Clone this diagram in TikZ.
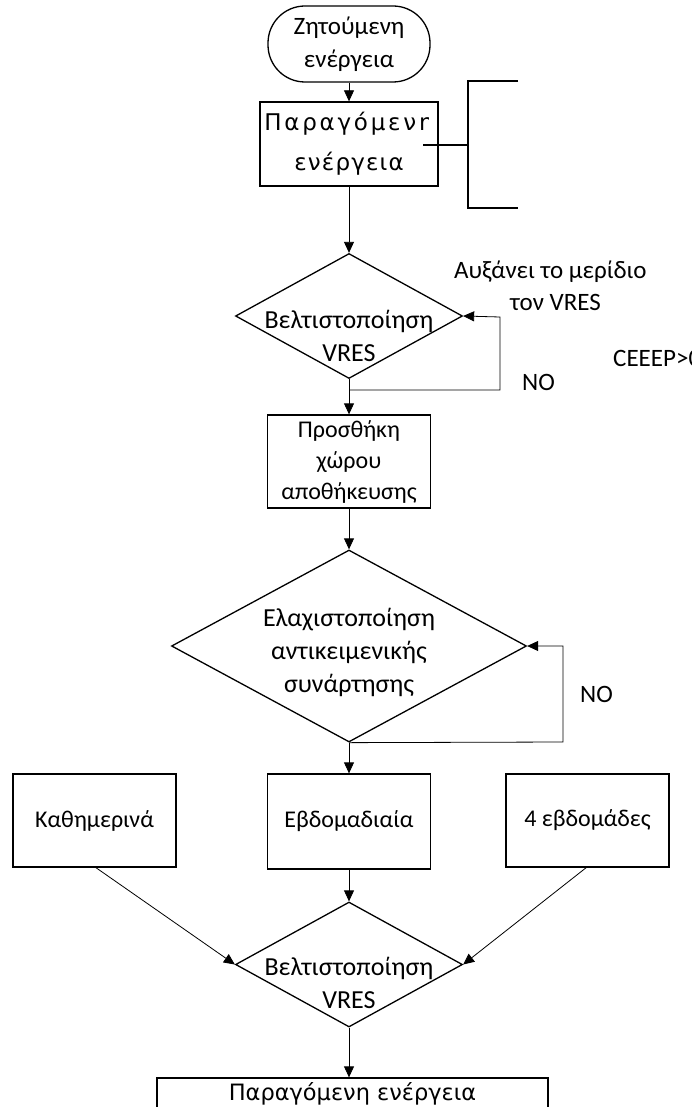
\documentclass[tikz,border=0pt]{standalone}
\usepackage{fontspec}
\setmainfont{Carlito}
\newfontfamily\dv{DejaVu Sans}
\newfontfamily\dvspa[LetterSpace=12]{DejaVu Sans}
\newfontfamily\dvspb[LetterSpace=5]{DejaVu Sans}
\usetikzlibrary{arrows.meta,shapes.geometric}
\begin{document}
\begin{tikzpicture}[x=1pt,y=-1pt,
  box/.style={draw, line width=1.3pt, inner sep=0pt, align=center, font=\fontsize{24}{31}\selectfont},
  dia/.style={draw, diamond, line width=1.3pt, inner sep=0pt},
  txt/.style={inner sep=0pt, align=center, font=\fontsize{25}{32}\selectfont},
  dtxt/.style={inner sep=0pt, align=center, font=\fontsize{26}{33}\selectfont},
  conn/.style={line width=0.8pt, -{Triangle[length=11pt,width=10pt]}},
  thick1/.style={line width=1.3pt}]
\useasboundingbox (0,0) rectangle (692,1107);
% top terminal
\node[box, font=\fontsize{25}{33}\selectfont, rounded corners=37pt, minimum width=162pt, minimum height=76pt] (term) at (349,44)
  {Ζητούμενη\\ενέργεια};
% produced energy box
\node[box, minimum width=178pt, minimum height=84pt] (prod) at (349,144) {};
\begin{scope}
\clip (262,104) rectangle (428,184);
\node[inner sep=0pt, font=\dvspa\fontsize{23}{28}\selectfont] (prodt1) at (349,124) {Παραγόμενη};
\node[inner sep=0pt, font=\dvspb\fontsize{23}{28}\selectfont] (prodt2) at (349,164) {ενέργεια};
\end{scope}
% bracket
\coordinate (pin) at (423,145);
\coordinate (bj) at (468,145);
\coordinate (bt) at (468,81);
\coordinate (btr) at (518,81);
\coordinate (bb) at (468,208);
\coordinate (bbr) at (518,208);
\draw[thick1] (pin) -- (bj);
\draw[thick1] (btr) -- (bt) -- (bb) -- (bbr);
% diamond 1
\node[dia, minimum width=227pt, minimum height=125pt] (d1) at (349,316) {};
\node[dtxt] (d1t) at (349,336) {Βελτιστοποίηση\\VRES};
% storage box
\node[box, minimum width=163pt, minimum height=93pt] (st) at (349,461.5)
  {Προσθήκη\\χώρου\\αποθήκευσης};
% diamond 2
\node[dia, minimum width=355pt, minimum height=192pt] (d2) at (349,646) {};
\node[dtxt] (d2t) at (349,652) {Ελαχιστοποίηση\\αντικειμενικής\\συνάρτησης};
% row of boxes
\node[box, minimum width=163pt, minimum height=93pt] (days) at (94.5,820.5) {Καθημερινά};
\node[box, minimum width=163pt, minimum height=95pt] (week) at (349,821.5) {Εβδομαδιαία};
\node[box, minimum width=163pt, minimum height=93pt] (four) at (587.5,820.5) {4 εβδομάδες};
% diamond 3
\node[dia, minimum width=227pt, minimum height=125pt] (d3) at (349,964.5) {};
\node[dtxt] (d3t) at (349,983) {Βελτιστοποίηση\\VRES};
% final box
\node[draw, line width=1.3pt, minimum width=391pt, minimum height=60pt, inner sep=0pt] (fin) at (352.5,1108) {};
\node[inner sep=0pt, font=\dv\fontsize{22.5}{27}\selectfont] (fint) at (352.5,1094) {Παραγόμενη ενέργεια};
% labels
\node[txt, anchor=west] (inc1) at (454,272) {Αυξάνει το μερίδιο};
\node[txt, anchor=west] (inc2) at (510,302) {τον VRES};
\node[txt, anchor=west] (ceeep) at (613,358) {CEEEP>0};
\node[txt, anchor=west] (no1) at (522,382) {NO};
\node[txt, anchor=west] (no2) at (580,694) {NO};
% connectors
\draw[conn] (term.south) -- (prod.north);
\draw[conn] (prod.south) -- (d1.north);
\draw[conn] (d1.south) -- (st.north);
\coordinate (l1a) at (349,390);
\coordinate (l1b) at (500,390);
\coordinate (l1c) at (500,317);
\draw[conn] (l1a) -- (l1b) -- (l1c) -- (d1.east);
\draw[conn] (st.south) -- (d2.north);
\coordinate (l2b) at (563,742);
\coordinate (l2c) at (563,646);
\draw[conn] (d2.south) -- (l2b) -- (l2c) -- (d2.east);
\draw[conn] (d2.south) -- (week.north);
\draw[conn] (week.south) -- (d3.north);
\coordinate (dayso) at (95,867);
\coordinate (fouro) at (587,867);
\draw[conn] (dayso) -- (d3.west);
\draw[conn] (fouro) -- (d3.east);
\draw[conn] (d3.south) -- (d3.south |- fin.north);
\end{tikzpicture}
\end{document}
